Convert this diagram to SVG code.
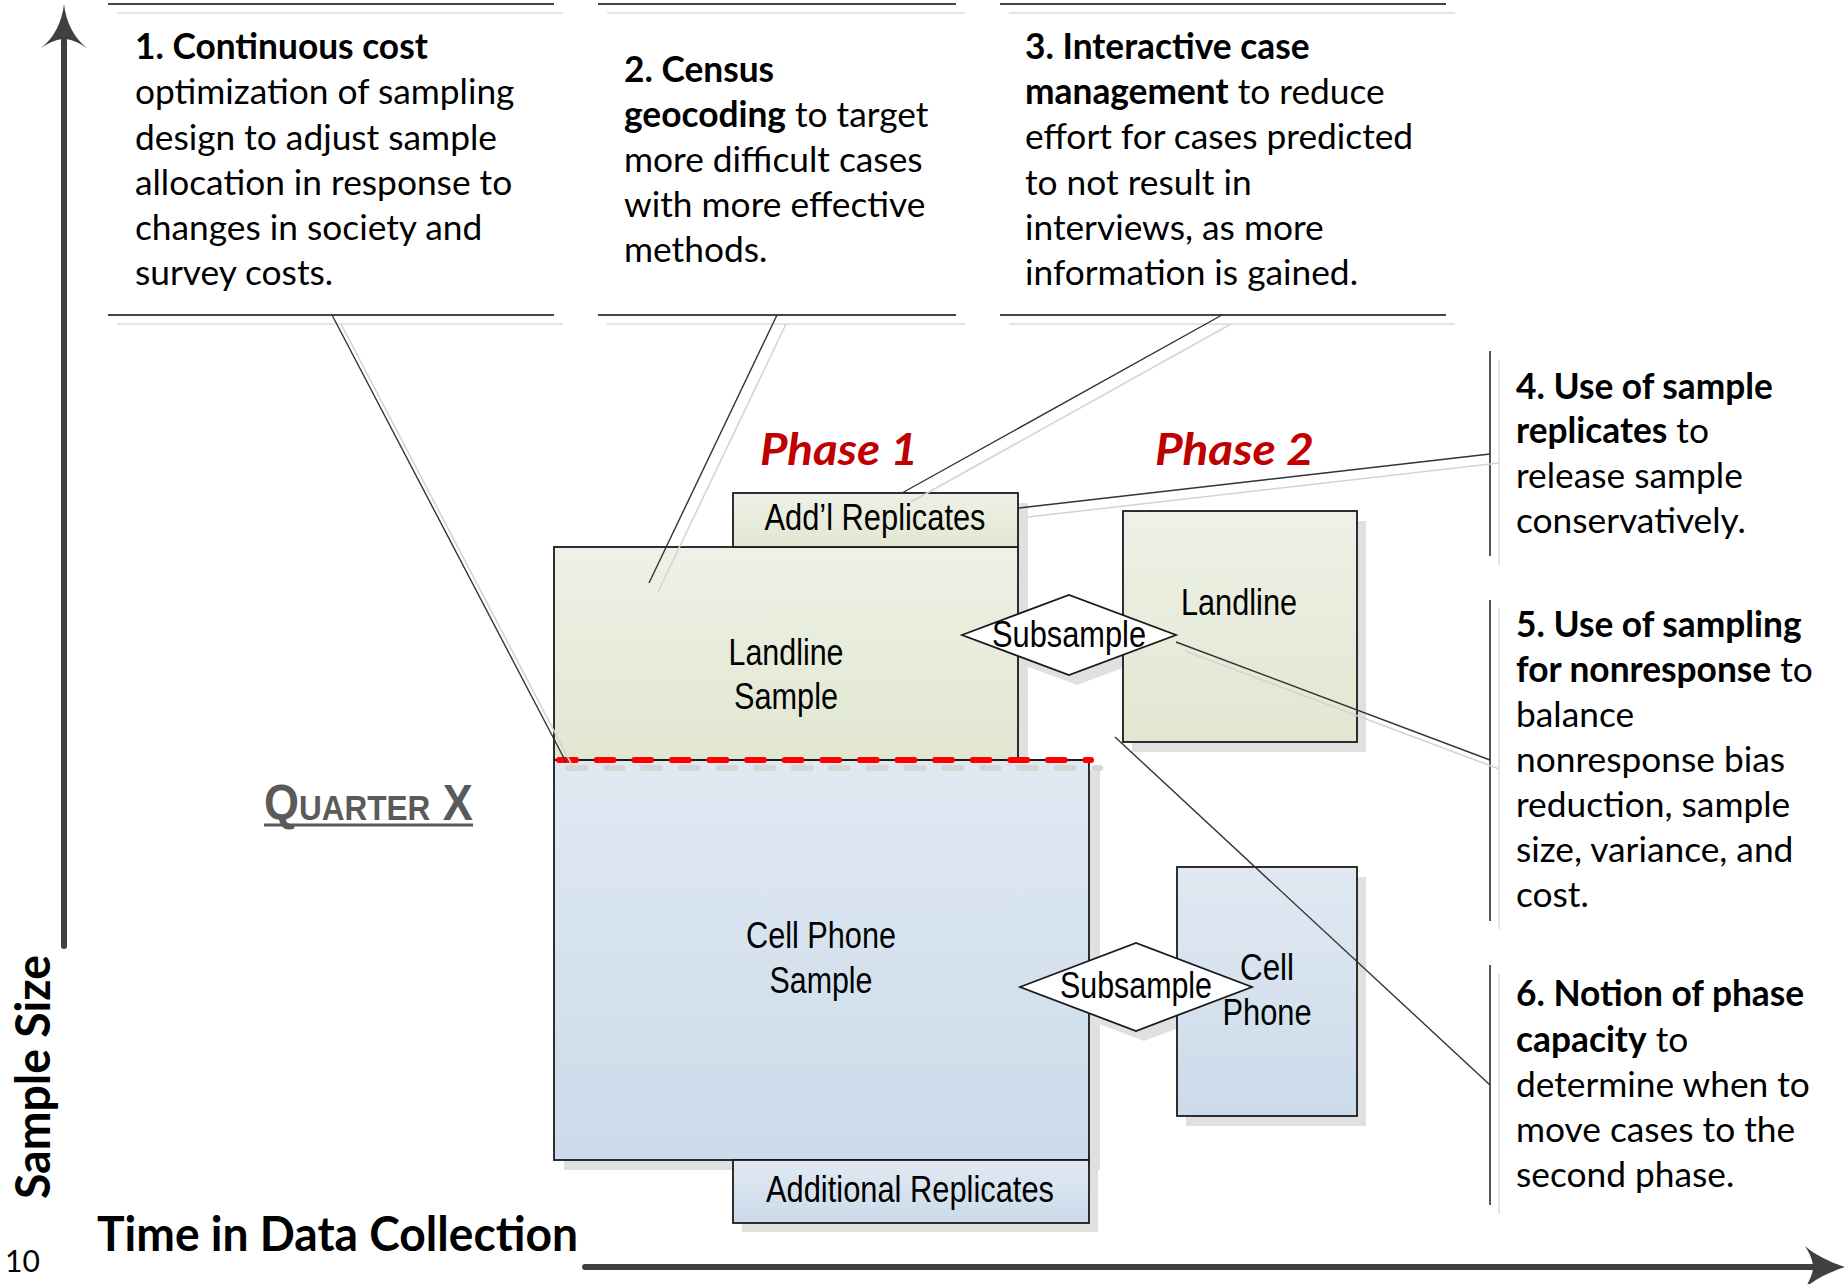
<svg xmlns="http://www.w3.org/2000/svg" width="1845" height="1284" viewBox="0 0 1845 1284">
<style>
.body{font-family:Lato,"Open Sans","Liberation Sans",sans-serif;font-size:35.3px;fill:#000}
.b{font-weight:bold}
.lbl{font-family:"Liberation Sans",Arial,sans-serif;font-size:37px;fill:#000;text-anchor:middle}
.conn{stroke:#333;stroke-width:1.4;fill:none}
.connsh{stroke:#d4d4d4;stroke-width:1.6;fill:none}
.shadow{fill:#e0e0e0}
.frame{stroke:#444;stroke-width:1.8;fill:none}
.framesh{stroke:#e4e4e4;stroke-width:2;fill:none}
.shape{stroke:#1a1a1a;stroke-width:1.8}
.phase{font-family:Lato,"Open Sans",sans-serif;font-weight:bold;font-style:italic;font-size:44px;fill:#C00000}
.axis{stroke:#404040;stroke-width:6;stroke-linecap:round;fill:none}
</style>
<defs>
<linearGradient id="gGreen" x1="0" y1="0" x2="0" y2="1"><stop offset="0" stop-color="#EEF1E6"/><stop offset="1" stop-color="#E1E7D1"/></linearGradient>
<linearGradient id="gBlue" x1="0" y1="0" x2="0" y2="1"><stop offset="0" stop-color="#E0E9F2"/><stop offset="1" stop-color="#CBDBEA"/></linearGradient>
</defs>
<rect width="1845" height="1284" fill="#fff"/>

<g id="axes">
<line class="axis" x1="64" y1="40" x2="64" y2="946"/>
<path d="M64,4 C66,22 74,38 87,48 C78,42 70,39 64,39 C58,39 50,42 41,48 C54,38 62,22 64,4 Z" fill="#404040"/>
<line class="axis" x1="585" y1="1267" x2="1815" y2="1267"/>
<path d="M1845,1267 C1830,1262 1815,1255 1805,1246 C1810,1254 1813,1261 1813,1267 C1813,1273 1810,1280 1805,1288 C1815,1279 1830,1272 1845,1267 Z" fill="#404040"/>
<text x="50" y="1199" transform="rotate(-90 50 1199)" font-family="Lato,'Open Sans',sans-serif" font-weight="bold" font-size="48" textLength="244" lengthAdjust="spacingAndGlyphs">Sample Size</text>
<text x="97" y="1251" font-family="Lato,'Open Sans',sans-serif" font-weight="bold" font-size="48" textLength="481" lengthAdjust="spacingAndGlyphs">Time in Data Collection</text>
<text x="5" y="1272" font-family="Lato,'Open Sans',sans-serif" font-size="30">10</text>
</g>

<g id="quarter">
<text x="264" y="820" transform="translate(264 0) scale(0.9 1) translate(-264 0)" font-family="'Liberation Sans',Arial,sans-serif" font-weight="bold" font-size="50" fill="#5a5a5a">Q<tspan font-size="35">UARTER</tspan> X</text>
<rect x="264" y="823.5" width="209" height="3" fill="#5a5a5a"/>
</g>

<g id="phases">
<text class="phase" x="760" y="465" textLength="158" lengthAdjust="spacingAndGlyphs">Phase 1</text>
<text class="phase" x="1155" y="465" textLength="159" lengthAdjust="spacingAndGlyphs">Phase 2</text>
</g>

<g id="shadows">
<rect class="shadow" x="742" y="503" width="286" height="54"/>
<rect class="shadow" x="564" y="556" width="464" height="214"/>
<rect class="shadow" x="564" y="770" width="536" height="400"/>
<rect class="shadow" x="742" y="1170" width="356" height="62"/>
<rect class="shadow" x="1132" y="521" width="234" height="231"/>
<rect class="shadow" x="1186" y="877" width="180" height="249"/>
<polygon class="shadow" points="970,645 1077,605 1184,645 1077,685"/>
<polygon class="shadow" points="1028,997 1144,953 1260,997 1144,1041"/>
</g>

<g id="node-landline-sample">
<rect class="shape" x="554" y="547" width="464" height="213" fill="url(#gGreen)"/>
<text class="lbl" x="786" y="665" textLength="115" lengthAdjust="spacingAndGlyphs">Landline</text>
<text class="lbl" x="786" y="709" textLength="104" lengthAdjust="spacingAndGlyphs">Sample</text>
</g>
<g id="node-addl-replicates">
<rect class="shape" x="733" y="493" width="285" height="54" fill="url(#gGreen)"/>
<text class="lbl" x="875" y="530" textLength="221" lengthAdjust="spacingAndGlyphs">Add’l Replicates</text>
</g>
<g id="node-cell-sample">
<rect class="shape" x="554" y="760" width="535" height="400" fill="url(#gBlue)"/>
<text class="lbl" x="821" y="948" textLength="150" lengthAdjust="spacingAndGlyphs">Cell Phone</text>
<text class="lbl" x="821" y="993" textLength="103" lengthAdjust="spacingAndGlyphs">Sample</text>
</g>
<g id="node-additional-replicates">
<rect class="shape" x="733" y="1160" width="356" height="63" fill="url(#gBlue)"/>
<text class="lbl" x="910" y="1202" textLength="288" lengthAdjust="spacingAndGlyphs">Additional Replicates</text>
</g>
<g id="node-landline-p2">
<rect class="shape" x="1123" y="511" width="234" height="231" fill="url(#gGreen)"/>
<text class="lbl" x="1239" y="615" textLength="116" lengthAdjust="spacingAndGlyphs">Landline</text>
</g>
<g id="node-cell-p2">
<rect class="shape" x="1177" y="867" width="180" height="249" fill="url(#gBlue)"/>
<text class="lbl" x="1267" y="980" textLength="54" lengthAdjust="spacingAndGlyphs">Cell</text>
<text class="lbl" x="1267" y="1025" textLength="89" lengthAdjust="spacingAndGlyphs">Phone</text>
</g>

<g id="divider">
<line x1="568" y1="768" x2="1100" y2="768" stroke="#d6d6d6" stroke-width="6" stroke-dasharray="17 20.6" stroke-linecap="round"/>
<line x1="554" y1="760" x2="1089" y2="760" stroke="#1a1a1a" stroke-width="1.8"/>
<line x1="559" y1="760" x2="1091" y2="760" stroke="#FF0000" stroke-width="6" stroke-dasharray="17 20.6" stroke-linecap="round"/>
</g>

<g id="node-subsample-1">
<polygon points="962,635 1069,595 1176,635 1069,675" fill="#fff" stroke="#1a1a1a" stroke-width="1.8"/>
<text class="lbl" x="1069" y="647" textLength="154" lengthAdjust="spacingAndGlyphs">Subsample</text>
</g>
<g id="node-subsample-2">
<polygon points="1020,987 1136,943 1252,987 1136,1031" fill="#fff" stroke="#1a1a1a" stroke-width="1.8"/>
<text class="lbl" x="1136" y="998" textLength="152" lengthAdjust="spacingAndGlyphs">Subsample</text>
</g>

<g id="callout-1">
<line class="framesh" x1="117" y1="13" x2="563" y2="13"/>
<line class="framesh" x1="117" y1="324" x2="563" y2="324"/>
<line class="frame" x1="108" y1="4" x2="554" y2="4"/>
<line class="frame" x1="108" y1="315" x2="554" y2="315"/>
<text class="body"><tspan class="b" x="135" y="59">1. Continuous cost</tspan><tspan x="135" y="104">optimization of sampling</tspan><tspan x="135" y="150">design to adjust sample</tspan><tspan x="135" y="195">allocation in response to</tspan><tspan x="135" y="240">changes in society and</tspan><tspan x="135" y="285">survey costs.</tspan></text>
</g>
<g id="callout-2">
<line class="framesh" x1="607" y1="13" x2="965" y2="13"/>
<line class="framesh" x1="607" y1="324" x2="965" y2="324"/>
<line class="frame" x1="598" y1="4" x2="956" y2="4"/>
<line class="frame" x1="598" y1="315" x2="956" y2="315"/>
<text class="body"><tspan class="b" x="624" y="82">2. Census</tspan><tspan class="b" x="624" y="127">geocoding</tspan><tspan> to target</tspan><tspan x="624" y="172">more difficult cases</tspan><tspan x="624" y="217">with more effective</tspan><tspan x="624" y="262">methods.</tspan></text>
</g>
<g id="callout-3">
<line class="framesh" x1="1009" y1="13" x2="1455" y2="13"/>
<line class="framesh" x1="1009" y1="324" x2="1455" y2="324"/>
<line class="frame" x1="1000" y1="4" x2="1446" y2="4"/>
<line class="frame" x1="1000" y1="315" x2="1446" y2="315"/>
<text class="body"><tspan class="b" x="1025" y="59">3. Interactive case</tspan><tspan class="b" x="1025" y="104">management</tspan><tspan> to reduce</tspan><tspan x="1025" y="149">effort for cases predicted</tspan><tspan x="1025" y="195">to not result in</tspan><tspan x="1025" y="240">interviews, as more</tspan><tspan x="1025" y="285">information is gained.</tspan></text>
</g>
<g id="callout-4">
<line class="framesh" x1="1499" y1="360" x2="1499" y2="565"/>
<line class="frame" x1="1490" y1="351" x2="1490" y2="556"/>
<text class="body"><tspan class="b" x="1516" y="398.5">4. Use of sample</tspan><tspan class="b" x="1516" y="443">replicates</tspan><tspan> to</tspan><tspan x="1516" y="488">release sample</tspan><tspan x="1516" y="532.5">conservatively.</tspan></text>
</g>
<g id="callout-5">
<line class="framesh" x1="1499" y1="608" x2="1499" y2="929"/>
<line class="frame" x1="1490" y1="600" x2="1490" y2="921"/>
<text class="body"><tspan class="b" x="1516" y="636.5">5. Use of sampling</tspan><tspan class="b" x="1516" y="681.6">for nonresponse</tspan><tspan> to</tspan><tspan x="1516" y="726.7">balance</tspan><tspan x="1516" y="771.8">nonresponse bias</tspan><tspan x="1516" y="816.9">reduction, sample</tspan><tspan x="1516" y="862">size, variance, and</tspan><tspan x="1516" y="907">cost.</tspan></text>
</g>
<g id="callout-6">
<line class="framesh" x1="1499" y1="974" x2="1499" y2="1214"/>
<line class="frame" x1="1490" y1="965" x2="1490" y2="1205"/>
<text class="body"><tspan class="b" x="1516" y="1006">6. Notion of phase</tspan><tspan class="b" x="1516" y="1051.5">capacity</tspan><tspan> to</tspan><tspan x="1516" y="1097">determine when to</tspan><tspan x="1516" y="1142">move cases to the</tspan><tspan x="1516" y="1187">second phase.</tspan></text>
</g>

<g id="connectors">
<line class="connsh" x1="341" y1="324" x2="575" y2="771"/>
<line class="connsh" x1="786" y1="324" x2="658" y2="592"/>
<line class="connsh" x1="1231" y1="324" x2="911" y2="502"/>
<line class="connsh" x1="1499" y1="463" x2="1028" y2="517"/>
<line class="connsh" x1="1499" y1="769" x2="1185" y2="651"/>
<line class="conn" x1="332" y1="315" x2="566" y2="762"/>
<line class="conn" x1="777" y1="315" x2="649" y2="583"/>
<line class="conn" x1="1222" y1="315" x2="902" y2="493"/>
<line class="conn" x1="1490" y1="454" x2="1019" y2="508"/>
<line class="conn" x1="1490" y1="760" x2="1176" y2="642"/>
<line class="conn" x1="1490" y1="1085" x2="1115" y2="737"/>
</g>
</svg>
